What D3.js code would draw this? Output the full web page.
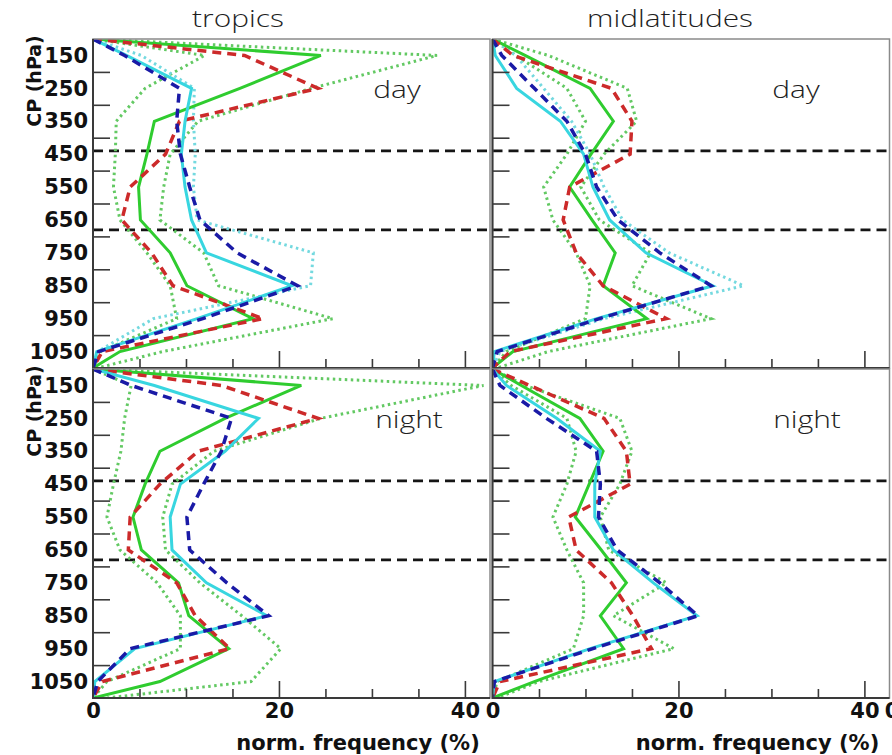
<!DOCTYPE html>
<html>
<head>
<meta charset="utf-8">
<script src="https://cdn.jsdelivr.net/npm/d3@7"></script>
<style>
    body { margin: 0; background: #fff; }
    svg { display: block; }
</style>
</head>
<body>
<div id="chart"></div>
<script>
// pressure levels (hPa) where the profiles have vertices
const cpLevels = [100, 150, 250, 350, 450, 550, 650, 750, 850, 950, 1050, 1100];

// tick values
const yTickLabels = [150, 250, 350, 450, 550, 650, 750, 850, 950, 1050];
const yMinorTicks = [200, 300, 400, 500, 600, 700, 800, 900, 1000];
const xMinorTicks = [5, 10, 15, 25, 30, 35];
const xMajorTicks = [20, 40];
const xTickLabels = [0, 20, 40];
const cloudBoundaries = [440, 680];

// tropics, day
const tropDayGreen   = [0, 24.5, 15.8, 6.6, 5.8, 4.9, 5.1, 8.3, 10.1, 17.2, 2.9, 0];
const tropDayGreenHi = [0, 37.0, 23.5, 11.3, 8.3, 7.6, 7.2, 11.9, 13.5, 25.8, 7.5, 0.5];
const tropDayGreenLo = [0, 12.0, 5.6, 2.5, 2.4, 2.2, 2.9, 5.8, 8.3, 9.0, 0.8, 0];
const tropDayRed     = [0, 16.3, 24.2, 9.3, 7.8, 4.0, 3.1, 6.3, 8.6, 18.3, 1.0, 0];
const tropDayBlue    = [0, 3.4, 9.3, 9.0, 9.4, 10.4, 11.5, 15.5, 22.0, 11.8, 0.6, 0];
const tropDayCyan    = [0, 3.6, 10.6, 9.9, 9.5, 9.9, 10.6, 12.2, 21.4, 11.2, 0.4, 0];
const tropDayCyanDot = [0, 5.2, 10.9, 10.8, 11.0, 10.8, 11.2, 23.7, 23.4, 6.5, 0.5, 0];

// midlatitudes, day
const midDayGreen   = [0, 3.5, 10.5, 13.0, 10.6, 8.3, 10.7, 13.2, 11.9, 16.6, 2.2, 0];
const midDayGreenHi = [0, 6.0, 14.5, 15.5, 12.0, 9.5, 11.5, 17.0, 15.0, 23.5, 6.0, 0.5];
const midDayGreenLo = [0, 2.5, 8.0, 10.0, 8.0, 5.5, 6.5, 9.0, 10.5, 10.0, 1.5, 0];
const midDayRed     = [0, 2.2, 12.8, 15.0, 14.8, 8.3, 7.6, 9.0, 11.9, 18.7, 1.9, 0];
const midDayBlue    = [0, 1.0, 4.5, 8.0, 10.0, 11.2, 13.5, 18.0, 23.5, 11.5, 0.5, 0];
const midDayCyan    = [0, 0.3, 2.6, 7.3, 9.8, 10.8, 12.6, 16.5, 23.7, 11.2, 0.2, 0];
const midDayCyanDot = [0, 2.5, 5.5, 8.5, 10.5, 12.0, 14.0, 19.0, 27.0, 12.0, 0.8, 0];

// tropics, night
const tropNightGreen   = [0, 22.4, 14.2, 7.2, 5.6, 4.3, 5.2, 9.2, 10.3, 14.6, 7.2, 0];
const tropNightGreenHi = [0, 42.0, 24.5, 13.0, 8.5, 7.5, 7.8, 11.5, 16.0, 20.2, 17.0, 1.5];
const tropNightGreenLo = [0, 4.1, 3.4, 3.0, 2.2, 1.5, 2.9, 6.9, 9.4, 9.4, 1.5, 0];
const tropNightRed     = [0, 13.8, 24.2, 11.3, 7.2, 4.0, 3.8, 9.0, 11.0, 14.7, 1.0, 0];
const tropNightBlue    = [0, 4.1, 14.9, 13.8, 11.9, 10.1, 10.4, 14.4, 18.9, 4.0, 0.5, 0];
const tropNightCyan    = [0, 6.6, 17.8, 14.2, 9.4, 8.3, 8.5, 12.2, 18.7, 4.5, 0.2, 0];

// midlatitudes, night
const midNightGreen   = [0, 3.1, 9.4, 11.9, 10.4, 8.9, 11.7, 14.4, 11.6, 14.1, 4.5, 0];
const midNightGreenHi = [0, 3.5, 13.7, 15.0, 13.7, 11.6, 12.5, 18.7, 13.0, 19.5, 5.0, 0.5];
const midNightGreenLo = [0, 2.0, 8.0, 9.0, 8.0, 6.5, 8.0, 9.8, 9.8, 8.7, 0.5, 0];
const midNightRed     = [0, 4.0, 12.0, 14.4, 14.8, 8.2, 9.0, 12.8, 15.1, 17.1, 0.8, 0];
const midNightBlue    = [0, 0.8, 5.8, 11.2, 11.6, 11.4, 13.4, 18.0, 22.1, 10.8, 0.2, 0];
const midNightCyan    = [0, 1.5, 6.9, 11.6, 11.0, 11.0, 13.0, 17.3, 22.0, 10.5, 0.2, 0];

// line styles, in drawing order
const lineStyles = [
    {key: "greenLo", color: "#63c963", width: 3,   dash: "2.5,3.5"},
    {key: "greenHi", color: "#63c963", width: 3,   dash: "2.5,3.5"},
    {key: "cyanDot", color: "#74d9df", width: 3,   dash: "2.5,3.5"},
    {key: "green",   color: "#2fcc2f", width: 3,   dash: null},
    {key: "red",     color: "#cc2a2a", width: 3.5, dash: "9,6"},
    {key: "cyan",    color: "#38d6e0", width: 3,   dash: null},
    {key: "blue",    color: "#1a1aa6", width: 3.5, dash: "9,6"}
];

const xMax = 42.7;
const panelW = 397, panelH = 329;

// thin, wide lettering of the titles (the original figure is stretched sideways)
function wideText(sel, x, y, size) {
    sel.attr("transform", `translate(${x},${y}) scale(1.3,1)`)
        .attr("text-anchor", "middle")
        .style("font-family", "Open Sans")
        .style("font-weight", 300)
        .style("font-size", size + "px")
        .style("fill", "#1e1e1e");
}

class ProfilePanel {
    constructor(svg, cfg) {
        this.svg = svg;
        this.cfg = cfg;
        this.initVis();
    }

    initVis() {
        let vis = this;
        let c = vis.cfg;

        vis.x = d3.scaleLinear().domain([0, xMax]).range([c.left, c.left + panelW]);
        vis.y = d3.scaleLinear().domain([100, 1100]).range([c.top, c.top + panelH]);

        vis.g = vis.svg.append("g");

        // clip the profiles to the frame
        vis.g.append("clipPath").attr("id", "clip-" + c.id)
            .append("rect")
            .attr("x", c.left).attr("y", c.top)
            .attr("width", panelW).attr("height", panelH);

        // ISCCP cloud boundaries
        vis.g.selectAll(".bound").data(cloudBoundaries).enter()
            .append("line")
            .attr("x1", c.left).attr("x2", c.left + panelW)
            .attr("y1", d => vis.y(d)).attr("y2", d => vis.y(d))
            .style("stroke", "#151515")
            .style("stroke-width", 2.8)
            .style("stroke-dasharray", "10,6");

        // profiles
        let line = d3.line()
            .x(d => vis.x(d.v))
            .y(d => vis.y(d.p));

        let plot = vis.g.append("g").attr("clip-path", `url(#clip-${c.id})`);
        lineStyles.forEach(s => {
            let vals = c.series[s.key];
            if (!vals) return;
            plot.append("path")
                .datum(cpLevels.map((p, i) => ({p: p, v: vals[i]})))
                .attr("d", line)
                .style("fill", "none")
                .style("stroke", s.color)
                .style("stroke-width", s.width)
                .style("stroke-linejoin", "miter")
                .style("stroke-dasharray", s.dash);
        });

        // frame
        vis.g.append("rect")
            .attr("x", c.left).attr("y", c.top)
            .attr("width", panelW).attr("height", panelH)
            .style("fill", "none")
            .style("stroke", "#8a8a8a")
            .style("stroke-width", 1.5);
        vis.g.append("path")
            .attr("d", `M${c.left},${c.top}V${c.top + panelH}H${c.left + panelW}`)
            .style("fill", "none")
            .style("stroke", "#3a3a3a")
            .style("stroke-width", 2);

        // inward ticks
        let yTicks = vis.g.append("g")
            .attr("transform", `translate(${c.left},0)`)
            .call(d3.axisRight(vis.y).tickValues(yMinorTicks).tickSize(17).tickFormat(""));
        let xMinor = vis.g.append("g")
            .attr("transform", `translate(0,${c.top + panelH})`)
            .call(d3.axisTop(vis.x).tickValues(xMinorTicks).tickSize(9).tickFormat(""));
        let xMajor = vis.g.append("g")
            .attr("transform", `translate(0,${c.top + panelH})`)
            .call(d3.axisTop(vis.x).tickValues(xMajorTicks).tickSize(17).tickFormat(""));
        [yTicks, xMinor, xMajor].forEach(a => {
            a.select(".domain").remove();
            a.selectAll("line").style("stroke", "#3a3a3a").style("stroke-width", 1.6);
        });

        // pressure labels on the left column
        if (c.yLabels) {
            let ya = vis.g.append("g")
                .attr("transform", `translate(${c.left},0)`)
                .call(d3.axisLeft(vis.y).tickValues(yTickLabels).tickSize(0).tickPadding(5)
                    .tickFormat(d3.format("d")));
            ya.select(".domain").remove();
            ya.selectAll("text")
                .style("font-family", "DejaVu Sans")
                .style("font-weight", "bold")
                .style("font-size", "21px")
                .style("fill", "#111");

            vis.g.append("text")
                .attr("transform", `translate(41,${c.top + 42}) rotate(-90)`)
                .attr("text-anchor", "middle")
                .style("font-family", "DejaVu Sans")
                .style("font-weight", "bold")
                .style("font-size", "19px")
                .style("fill", "#111")
                .text("CP (hPa)");
        }

        // frequency labels on the bottom row
        if (c.xLabels) {
            let xa = vis.g.append("g")
                .attr("transform", `translate(0,${c.top + panelH})`)
                .call(d3.axisBottom(vis.x).tickValues(xTickLabels).tickSize(0).tickPadding(5));
            xa.select(".domain").remove();
            xa.selectAll("text")
                .style("font-family", "DejaVu Sans")
                .style("font-weight", "bold")
                .style("font-size", "21px")
                .style("fill", "#111");

            vis.g.append("text")
                .attr("x", c.left + 265).attr("y", 750)
                .attr("text-anchor", "middle")
                .style("font-family", "DejaVu Sans")
                .style("font-weight", "bold")
                .style("font-size", "21px")
                .style("fill", "#111")
                .text("norm. frequency (%)");
        }

        // day / night tag
        vis.g.append("text")
            .call(wideText, c.tagX, c.top + 59, 23)
            .text(c.tag);
    }
}

let svg = d3.select("#chart").append("svg")
    .attr("width", 892)
    .attr("height", 755);

svg.append("rect").attr("width", 892).attr("height", 755).style("fill", "#fff");

let panels = [
    {id: "td", left: 93, top: 39, tag: "day", tagX: 397, yLabels: true, xLabels: false,
        series: {green: tropDayGreen, greenHi: tropDayGreenHi, greenLo: tropDayGreenLo, red: tropDayRed,
                 blue: tropDayBlue, cyan: tropDayCyan, cyanDot: tropDayCyanDot}},
    {id: "md", left: 492.5, top: 39, tag: "day", tagX: 796, yLabels: false, xLabels: false,
        series: {green: midDayGreen, greenHi: midDayGreenHi, greenLo: midDayGreenLo, red: midDayRed,
                 blue: midDayBlue, cyan: midDayCyan, cyanDot: midDayCyanDot}},
    {id: "tn", left: 93, top: 369, tag: "night", tagX: 409, yLabels: true, xLabels: true,
        series: {green: tropNightGreen, greenHi: tropNightGreenHi, greenLo: tropNightGreenLo, red: tropNightRed,
                 blue: tropNightBlue, cyan: tropNightCyan}},
    {id: "mn", left: 492.5, top: 369, tag: "night", tagX: 807, yLabels: false, xLabels: true,
        series: {green: midNightGreen, greenHi: midNightGreenHi, greenLo: midNightGreenLo, red: midNightRed,
                 blue: midNightBlue, cyan: midNightCyan}}
];

panels.forEach(p => new ProfilePanel(svg, p));

// column titles
[["tropics", 238], ["midlatitudes", 670]].forEach(t => {
    svg.append("text").call(wideText, t[1], 27, 23).text(t[0]);
});

// edge of the next column's zero label, cut by the page border
svg.append("text")
    .attr("x", 892).attr("y", 718)
    .attr("text-anchor", "middle")
    .style("font-family", "DejaVu Sans")
    .style("font-weight", "bold")
    .style("font-size", "21px")
    .style("fill", "#111")
    .text("0");
</script>
</body>
</html>
